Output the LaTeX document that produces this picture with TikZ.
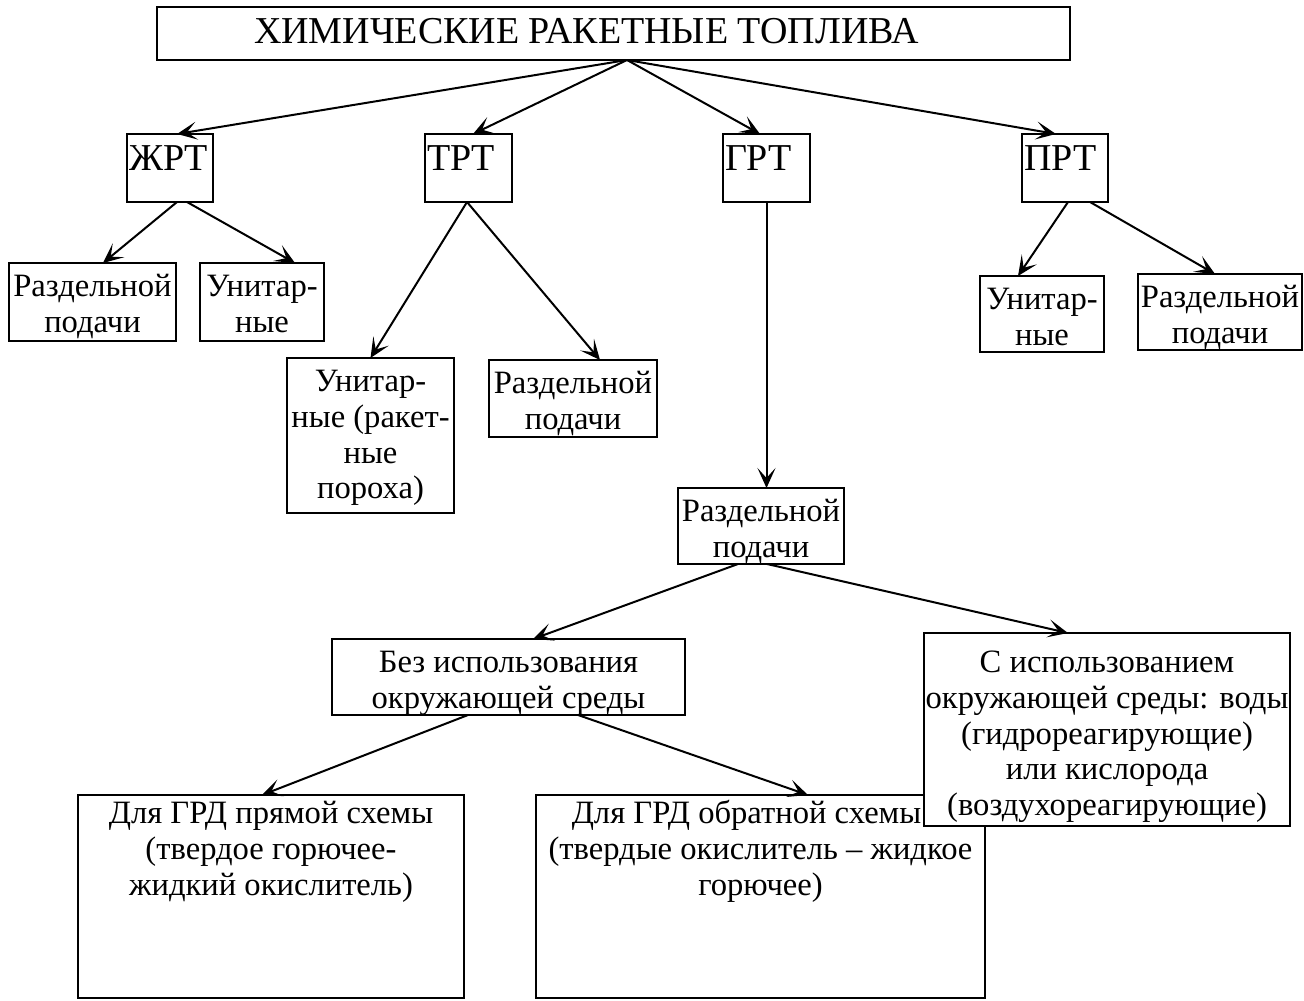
\documentclass[tikz,border=0pt]{standalone}
\usepackage{fontspec}
\setmainfont{Liberation Serif}
\usetikzlibrary{arrows.meta, calc}
\tikzset{
  kindbox/.style={
    draw, line width=1pt,
    inner sep=0pt, outer sep=0pt,
    font={\fontsize{16.3}{17.8}\selectfont\def\topgap{4.5pt}}
  },
  headbox/.style={
    kindbox,
    font={\fontsize{19}{21}\selectfont\def\topgap{3.6pt}}
  },
  branch/.style={
    -{Stealth[length=10pt,width=9pt,inset=5pt]},
    line width=1pt
  }
}
% width, height, lines
\newcommand{\boxtext}[3]{%
  \vbox to #2{\vskip\topgap
    \hbox to #1{\hss\begin{tabular}[t]{@{}c@{}}#3\end{tabular}\hss}\vss}%
}
\newcommand{\boxtextl}[3]{%
  \vbox to #2{\vskip\topgap
    \hbox to #1{\kern1pt\begin{tabular}[t]{@{}l@{}}#3\end{tabular}\hss}\vss}%
}

\begin{document}
\begin{tikzpicture}[x=0.5pt, y=-0.5pt]
  \useasboundingbox (0,0) rectangle (1304,1000);

  \node[headbox] (fuels) at (613.5,33.5) {\boxtext{456.5pt}{26.5pt}{ХИМИЧЕСКИЕ РАКЕТНЫЕ ТОПЛИВА\hspace*{27pt}}};

  % four kinds
  \node[headbox] (zhrt) at (170,168)   {\boxtextl{43pt}{34pt}{ЖРТ}};
  \node[headbox] (trt)  at (468.5,168) {\boxtextl{43.5pt}{34pt}{ТРТ}};
  \node[headbox] (grt)  at (766.5,168) {\boxtextl{43.5pt}{34pt}{ГРТ}};
  \node[headbox] (prt)  at (1065,168)  {\boxtextl{43pt}{34pt}{ПРТ}};

  % liquid
  \node[kindbox] (zhsep) at (92.5,302) {\boxtext{83.5pt}{39pt}{Раздельной\\подачи}};
  \node[kindbox] (zhuni) at (262,302)  {\boxtext{62pt}{39pt}{Унитар-\\ные}};

  % solid
  \node[kindbox] (truni) at (370.5,435.5) {\boxtext{83.5pt}{77.5pt}{Унитар-\\ные (ракет-\\ные\\пороха)}};
  \node[kindbox] (trsep) at (573,398.5)   {\boxtext{84pt}{38.5pt}{Раздельной\\подачи}};

  % pasty
  \node[kindbox] (pruni) at (1042,314) {\boxtext{62pt}{38pt}{Унитар-\\ные}};
  \node[kindbox] (prsep) at (1220,312) {\boxtext{82pt}{38pt}{Раздельной\\подачи}};

  % hybrid
  \node[kindbox] (grsep)   at (761,526)    {\boxtext{83pt}{38pt}{Раздельной\\подачи}};
  \node[kindbox] (nomed)   at (508.5,677)  {\boxtext{176.5pt}{38pt}{Без использования\\окружающей среды}};
  \node[kindbox] (direct)  at (271,896.5)  {\def\topgap{2pt}\boxtext{193pt}{101.5pt}{Для ГРД прямой схемы\\(твердое горючее-\\жидкий окислитель)}};
  \node[kindbox] (reverse) at (760.5,896.5){\def\topgap{2pt}\boxtext{224.5pt}{101.5pt}{Для ГРД обратной схемы\hspace*{14pt}\\(твердые окислитель – жидкое\\горючее)}};
  \node[kindbox, fill=white] (withmed) at (1107,729.5) {\def\topgap{7.5pt}\boxtext{183pt}{96.5pt}{С использованием\\окружающей среды: воды\\(гидрореагирующие)\\или кислорода\\(воздухореагирующие)}};

  \coordinate (top) at ($(fuels.south)+(13.5,0)$);
  \draw[branch] (top) -- ($(zhrt.north)+(7,0)$);
  \draw[branch] (top) -- ($(trt.north)+(4.5,0)$);
  \draw[branch] (top) -- ($(grt.north)+(-6.5,0)$);
  \draw[branch] (top) -- ($(prt.north)+(-9,0)$);

  \draw[branch] ($(zhrt.south)+(7,0)$) -- ($(zhsep.north)+(10.5,0)$);
  \draw[branch] ($(zhrt.south)+(17,0)$) -- ($(zhuni.north)+(33,0)$);

  \draw[branch] ($(trt.south)+(-1.5,0)$) -- (truni.north);
  \draw[branch] ($(trt.south)+(-1.5,0)$) -- ($(trsep.north)+(27,0)$);

  \draw[branch] ($(prt.south)+(3,0)$) -- ($(pruni.north)+(-24,0)$);
  \draw[branch] ($(prt.south)+(25,0)$) -- ($(prsep.north)+(-5,0)$);

  \draw[branch] (grt.south) -- (grt.south |- grsep.north);

  \draw[branch] ($(grsep.south)+(-23,0)$) -- ($(nomed.north)+(24.5,0)$);
  \draw[branch] ($(grsep.south)+(6,0)$) -- ($(withmed.north)+(-39,0)$);

  \draw[branch] ($(nomed.south)+(-40.5,0)$) -- ($(direct.north)+(-9,0)$);
  \draw[branch] ($(nomed.south)+(69.5,0)$) -- ($(reverse.north)+(47.5,0)$);
\end{tikzpicture}
\end{document}
